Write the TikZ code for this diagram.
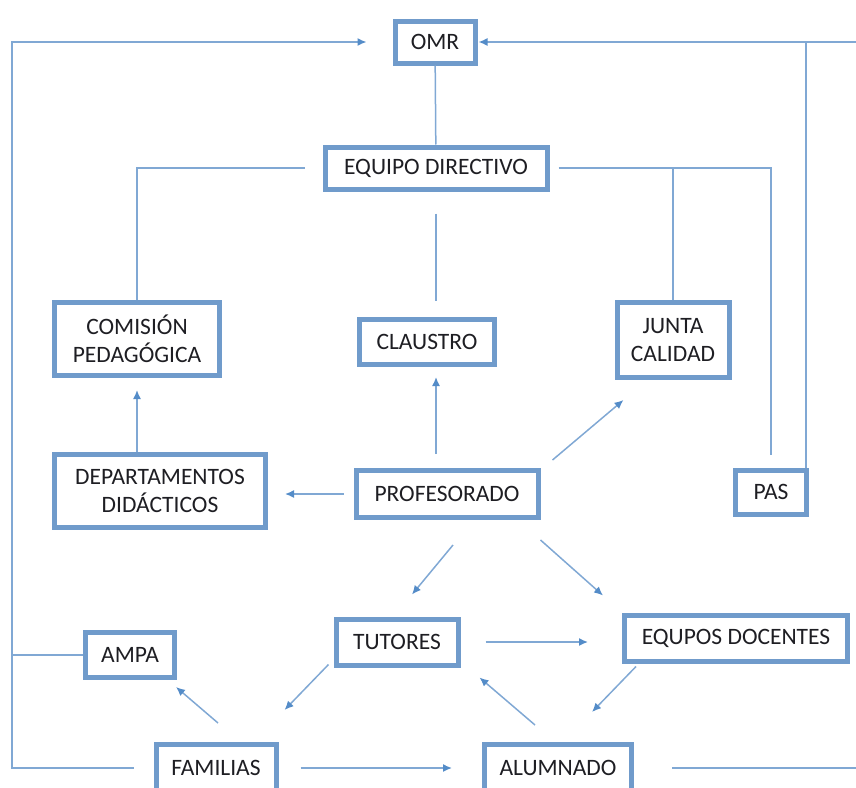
\documentclass[tikz,border=0pt]{standalone}
\usepackage{fontspec}
\setmainfont{Carlito}
\usetikzlibrary{arrows.meta}
\definecolor{boxblue}{RGB}{112,155,203}
\definecolor{lineblue}{RGB}{128,168,212}
\definecolor{tipblue}{RGB}{84,140,200}
\definecolor{textgray}{RGB}{30,30,35}
\begin{document}
\begin{tikzpicture}[x=1pt,y=-1pt,
	box/.style={draw=boxblue, line width=5pt, fill=white, align=center, inner sep=2pt,
		text=textgray, font=\fontsize{23.5}{28}\selectfont},
	conn/.style={draw=lineblue, line width=1.5pt},
	arr/.style={conn, -{Latex[length=9pt,width=8pt,color=tipblue]}}]
		\useasboundingbox (0,0) rectangle (856,787);

		% the rails at both sides
		\coordinate (leftrail) at (12,400);
		\coordinate (rightrail) at (870,400);
		\coordinate (pasrail) at (806,400);

		% draw the boxes
		\node[box, minimum width=80pt, minimum height=42pt] (omr) at (435,42) {OMR};
		\node[box, minimum width=222pt, minimum height=42pt] (equipo) at (436,168) {EQUIPO DIRECTIVO};
		\node[box, minimum width=165pt, minimum height=73pt] (comision) at (137,339) {COMISIÓN\\PEDAGÓGICA};
		\node[box, minimum width=135pt, minimum height=45pt] (claustro) at (427,342) {CLAUSTRO};
		\node[box, minimum width=112pt, minimum height=75pt] (junta) at (673,340) {JUNTA\\CALIDAD};
		\node[box, minimum width=211pt, minimum height=73pt] (deptos) at (160,491) {DEPARTAMENTOS\\DIDÁCTICOS};
		\node[box, minimum width=182pt, minimum height=47pt] (profesorado) at (447,494) {PROFESORADO};
		\node[box, minimum width=71pt, minimum height=44pt] (pas) at (771,492) {PAS};
		\node[box, minimum width=89pt, minimum height=45pt] (ampa) at (130,655) {AMPA};
		\node[box, minimum width=122pt, minimum height=46pt] (tutores) at (397,642) {TUTORES};
		\node[box, minimum width=223pt, minimum height=46pt] (equipos) at (736,638) {EQUPOS DOCENTES};
		\node[box, minimum width=120pt, minimum height=47pt] (familias) at (216,768) {FAMILIAS};
		\node[box, minimum width=147pt, minimum height=47pt] (alumnado) at (558,768) {ALUMNADO};

		% draw the lines round the outside up to OMR
		\draw[arr, shorten <=20pt, shorten >=26pt] (familias.west) -| (leftrail) |- (omr.west);
		\draw[conn] (ampa.west) -- (ampa.west -| leftrail);
		\draw[arr, shorten <=38pt, shorten >=1pt] (alumnado.east) -| (rightrail) |- (omr.east);
		\draw[conn] (pas.north -| pasrail) -- (pasrail |- omr.east);

		% draw the lines from the management team
		\draw[conn] (omr) -- (equipo);
		\draw[conn, shorten <=22pt, shorten >=16pt] (equipo.south) -- (equipo.south |- claustro.north);
		\draw[conn, shorten <=18pt] (equipo.west) -| (comision.north);
		\draw[conn, shorten <=9pt, shorten >=13pt] (equipo.east) -| (pas.north);
		\draw[conn] (junta.north) -- (junta.north |- equipo.east);

		% draw the arrows from the teachers
		\draw[arr, shorten <=14pt, shorten >=10pt] (equipo.south |- profesorado.north) -- (equipo.south |- claustro.south);
		\draw[arr] ([xshift=12pt,yshift=8pt]profesorado.north east) -- ([xshift=9pt,yshift=-20pt]junta.south west);
		\draw[arr, shorten <=10pt, shorten >=17pt] (profesorado.west) -- (profesorado.west -| deptos.east);
		\draw[arr, shorten >=12pt] (comision.south |- deptos.north) -- (comision.south);
		\draw[arr] ([xshift=6pt,yshift=-25pt]profesorado.south) -- ([xshift=15pt,yshift=22pt]tutores.north);
		\draw[arr] ([yshift=-20pt]profesorado.south east) -- ([xshift=-19pt,yshift=17pt]equipos.north west);

		% draw the arrows between tutors, teams, pupils and families
		\draw[arr, shorten <=25pt, shorten >=34pt] (tutores.east) -- (tutores.east -| equipos.west);
		\draw[arr] ([xshift=14pt,yshift=-3pt]equipos.south west) -- ([xshift=34pt,yshift=30pt]alumnado.north);
		\draw[arr] ([xshift=-23pt,yshift=17pt]alumnado.north) -- ([xshift=19pt,yshift=-10pt]tutores.south east);
		\draw[arr] ([xshift=-5pt,yshift=3pt]tutores.south west) -- ([xshift=6pt,yshift=32pt]familias.north east);
		\draw[arr] ([xshift=2pt,yshift=19pt]familias.north) -- ([xshift=-1pt,yshift=-7pt]ampa.south east);
		\draw[arr, shorten <=22pt, shorten >=30pt] (familias.east) -- (alumnado.west);
	\end{tikzpicture}
\end{document}
